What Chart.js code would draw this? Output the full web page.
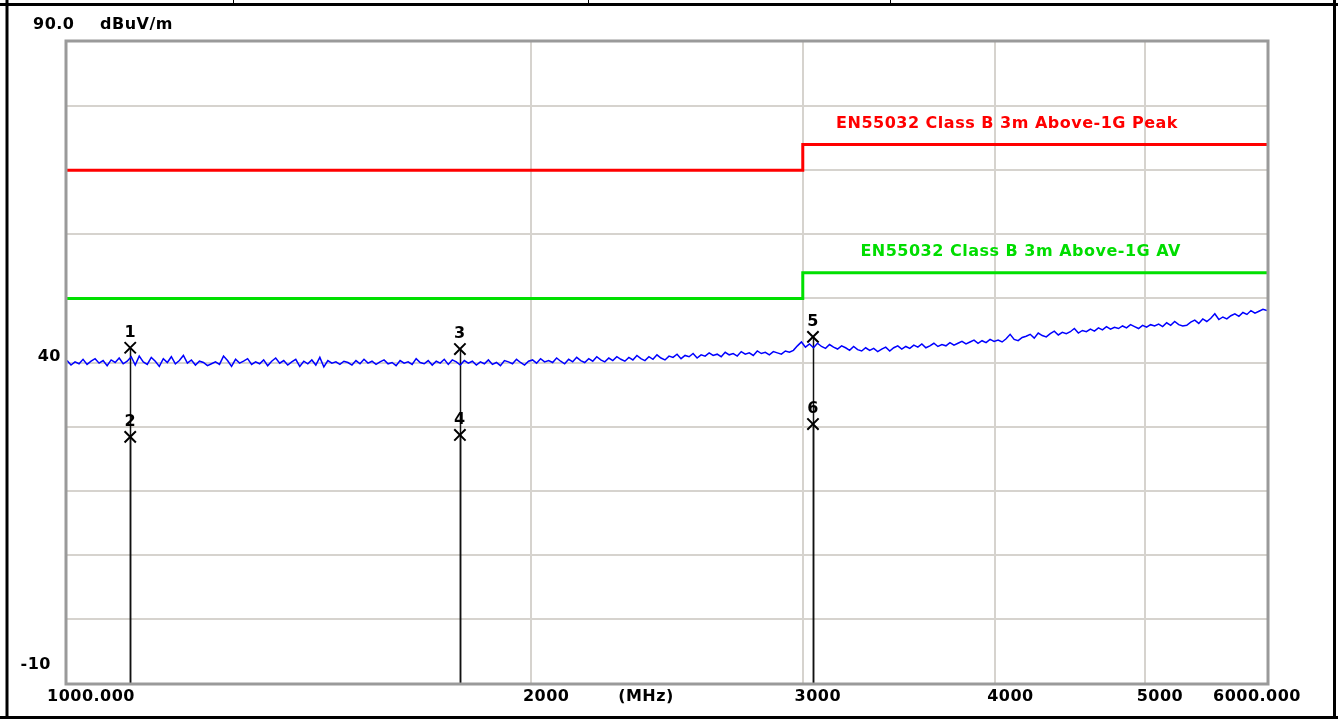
<!DOCTYPE html>
<html>
<head>
<meta charset="utf-8">
<title>Radiated emission 1-6 GHz</title>
<script src="https://cdn.jsdelivr.net/npm/chart.js@4.4.1/dist/chart.umd.min.js"></script>
<style>
    html, body { margin: 0; padding: 0; background: #fff; }
    #wrap { position: relative; width: 1338px; height: 719px; }
</style>
</head>
<body>
<div id="wrap"><canvas id="emiChart"></canvas></div>
<script>
// Sweep range (MHz)
const sweepStart = 1000;
const sweepStop = 6000;

const traceLevels = [
    40.3, 39.6, 40.1, 39.8, 40.5, 39.7, 40.2, 40.6, 39.9, 40.3, 39.5, 40.4, 40.0, 40.7, 39.8, 40.2, 40.9, 39.6, 41.0, 40.1,
    39.7, 40.8, 40.2, 39.4, 40.6, 40.0, 40.9, 39.8, 40.3, 41.1, 39.9, 40.4, 39.6, 40.2, 40.0, 39.5, 39.8, 40.1, 39.7, 41.0,
    40.3, 39.4, 40.5, 39.9, 40.2, 40.6, 39.7, 40.1, 39.8, 40.4, 39.5, 40.2, 40.7, 39.9, 40.3, 39.6, 40.1, 40.5, 39.4, 40.2,
    39.8, 40.4, 39.6, 40.8, 39.3, 40.3, 39.9, 40.1, 39.7, 40.2, 40.0, 39.6, 40.3, 39.8, 40.5, 39.9, 40.2, 39.7, 40.1, 40.4,
    39.8, 40.0, 39.5, 40.3, 39.9, 40.1, 39.7, 40.6, 40.0, 39.8, 40.3, 39.6, 40.2, 39.9, 40.5, 39.7, 40.4, 40.1, 39.6, 40.3,
    39.9, 40.2, 39.6, 40.1, 39.8, 40.4, 39.7, 40.0, 39.5, 40.3, 40.1, 39.8, 40.5, 40.0, 39.6, 40.2, 40.4, 39.9, 40.6, 40.1,
    40.3, 40.0, 40.7, 40.2, 39.8, 40.5, 40.1, 40.8, 40.3, 40.0, 40.6, 40.2, 40.9, 40.4, 40.1, 40.7, 40.3, 40.9, 40.5, 40.2,
    40.8, 40.4, 41.1, 40.6, 40.3, 40.9, 40.5, 41.2, 40.7, 40.4, 41.0, 40.8, 41.3, 40.6, 41.1, 40.9, 41.4, 40.7, 41.2, 41.0,
    41.5, 41.1, 41.3, 40.9, 41.6, 41.2, 41.4, 41.0, 41.7, 41.3, 41.5, 41.1, 41.8, 41.4, 41.6, 41.2, 41.7, 41.5, 41.3, 41.8,
    41.6, 41.9, 42.6, 43.2, 42.4, 42.9, 42.3, 43.0, 42.5, 42.2, 42.8, 42.4, 42.1, 42.6, 42.3, 41.9, 42.5, 42.0, 41.8, 42.3,
    41.9, 42.2, 41.7, 42.1, 42.4, 41.8, 42.3, 42.6, 42.1, 42.5, 42.2, 42.7, 42.4, 42.9, 42.3, 42.6, 43.0, 42.5, 42.8, 42.6,
    43.1, 42.7, 43.0, 43.3, 42.9, 43.2, 43.5, 43.0, 43.4, 43.1, 43.6, 43.3, 43.5, 43.2, 43.7, 44.4, 43.6, 43.4, 43.9, 44.1,
    44.4, 43.8, 44.6, 44.2, 44.0, 44.5, 44.9, 44.3, 44.7, 44.5, 44.8, 45.3, 44.6, 45.0, 44.8, 45.2, 44.9, 45.4, 45.1, 45.6,
    45.2, 45.5, 45.3, 45.7, 45.4, 45.9, 45.6, 45.3, 45.8, 45.5, 45.9, 45.7, 46.0, 45.6, 46.2, 45.8, 46.4, 45.9, 45.7, 45.8,
    46.3, 46.6, 46.1, 46.8, 46.4, 46.9, 47.6, 46.7, 47.1, 46.8, 47.3, 47.6, 47.2, 47.8, 47.5, 48.1, 47.7, 48.0, 48.3, 48.1
];

// Limit lines (EN55032 Class B, 3 m, above 1 GHz)
const peakLimitFreq = [1000, 3000, 3000, 6000];
const peakLimitLevel = [70, 70, 74, 74];
const avLimitFreq = [1000, 3000, 3000, 6000];
const avLimitLevel = [50, 50, 54, 54];
const peakLimitName = 'EN55032 Class B 3m Above-1G Peak';
const avLimitName = 'EN55032 Class B 3m Above-1G AV';

// Markers
const markerNo = ['1', '2', '3', '4', '5', '6'];
const markerFreq = [1099, 1099, 1798, 1798, 3046, 3046];
const markerLevel = [42.3, 28.4, 42.1, 28.7, 44.0, 30.4];

// Axes
const xTicks = [1000, 2000, 3000, 4000, 5000, 6000];
const xTickLabels = ['1000.000', '2000', '3000', '4000', '5000', '6000.000'];
const yMin = -10;
const yMax = 90;
const yUnit = 'dBuV/m';
const xUnit = '(MHz)';

const FONT = 'bold 16px "DejaVu Sans", Verdana, sans-serif';

function toPoints(xs, ys) {
    return xs.map((x, i) => ({ x: x, y: ys[i] }));
}

function tracePoints() {
    const n = traceLevels.length;
    const ratio = sweepStop / sweepStart;
    return traceLevels.map((level, i) => ({ x: sweepStart * Math.pow(ratio, i / (n - 1)), y: level }));
}

// Page frame, plot border, texts, marker drop lines
const decorPlugin = {
    id: 'decor',
    beforeDatasetsDraw(chart) {
        const ctx = chart.ctx;
        const xs = chart.scales.x;
        const ys = chart.scales.y;
        ctx.save();
        ctx.strokeStyle = '#111';
        ctx.lineWidth = 1.5;
        markerFreq.forEach((f, i) => {
            const px = Math.round(xs.getPixelForValue(f)) + 0.5;
            ctx.beginPath();
            ctx.moveTo(px, ys.getPixelForValue(markerLevel[i]));
            ctx.lineTo(px, chart.chartArea.bottom);
            ctx.stroke();
        });
        ctx.restore();
    },
    afterDraw(chart) {
        const ctx = chart.ctx;
        const area = chart.chartArea;
        const xs = chart.scales.x;
        const ys = chart.scales.y;
        ctx.save();

        // plot border
        ctx.strokeStyle = '#9a9a9a';
        ctx.lineWidth = 3;
        ctx.strokeRect(area.left - 1, area.top - 1, area.right - area.left + 2, area.bottom - area.top + 2);

        // page frame
        ctx.strokeStyle = '#000';
        ctx.lineWidth = 3;
        ctx.beginPath();
        ctx.moveTo(0, 4.5); ctx.lineTo(1338, 4.5);
        ctx.moveTo(7, 0); ctx.lineTo(7, 719);
        ctx.moveTo(1334.5, 0); ctx.lineTo(1334.5, 719);
        ctx.moveTo(0, 717.5); ctx.lineTo(1338, 717.5);
        ctx.stroke();
        ctx.lineWidth = 1;
        [233, 588, 890].forEach(x => {
            ctx.beginPath();
            ctx.moveTo(x + 0.5, 0); ctx.lineTo(x + 0.5, 4);
            ctx.stroke();
        });

        ctx.font = FONT;
        ctx.letterSpacing = '0.5px';
        ctx.fillStyle = '#000';
        ctx.textBaseline = 'middle';

        // y axis texts
        ctx.textAlign = 'left';
        ctx.fillText(yMax.toFixed(1), 33, 25);
        ctx.fillText(yUnit, 100, 25);
        ctx.textAlign = 'right';
        ctx.fillText('40', 61, ys.getPixelForValue(40) - 6);
        ctx.fillText(String(yMin), 51, ys.getPixelForValue(yMin) - 18);

        // x axis texts
        const ly = area.bottom + 14;
        ctx.textAlign = 'center';
        xTicks.forEach((t, i) => {
            let px = xs.getPixelForValue(t) + 15;
            if (i === 0) px = xs.getPixelForValue(t) + 24;
            if (i === xTicks.length - 1) px = xs.getPixelForValue(t) - 10;
            ctx.fillText(xTickLabels[i], px, ly);
        });
        ctx.fillText(xUnit, 646, ly);

        // marker numbers
        markerNo.forEach((label, i) => {
            ctx.fillText(label, xs.getPixelForValue(markerFreq[i]), ys.getPixelForValue(markerLevel[i]) - 15);
        });

        // limit names
        ctx.textAlign = 'right';
        ctx.fillStyle = '#ff0000';
        ctx.fillText(peakLimitName, 1178, ys.getPixelForValue(peakLimitLevel[3]) - 21);
        ctx.fillStyle = '#00dd00';
        ctx.fillText(avLimitName, 1181, ys.getPixelForValue(avLimitLevel[3]) - 21);

        ctx.restore();
    }
};

const chart = new Chart(document.getElementById('emiChart'), {
    type: 'line',
    data: {
        datasets: [
            {
                label: 'Trace',
                data: tracePoints(),
                borderColor: '#0000ff',
                borderWidth: 1.5,
                pointRadius: 0,
                tension: 0,
            },
            {
                label: peakLimitName,
                data: toPoints(peakLimitFreq, peakLimitLevel),
                borderColor: '#ff0000',
                borderWidth: 3,
                pointRadius: 0,
                tension: 0,
            },
            {
                label: avLimitName,
                data: toPoints(avLimitFreq, avLimitLevel),
                borderColor: '#00e000',
                borderWidth: 3,
                pointRadius: 0,
                tension: 0,
            },
            {
                label: 'Markers',
                data: toPoints(markerFreq, markerLevel),
                showLine: false,
                pointStyle: 'crossRot',
                pointRadius: 8,
                pointBorderWidth: 2,
                borderColor: '#000',
                backgroundColor: '#000',
            },
        ],
    },
    options: {
        responsive: true,
        maintainAspectRatio: false,
        animation: false,
        layout: {
            padding: { left: 67, top: 42, right: 71, bottom: 36 },
        },
        plugins: {
            legend: { display: false },
            tooltip: { enabled: false },
        },
        scales: {
            x: {
                type: 'logarithmic',
                min: sweepStart,
                max: sweepStop,
                afterBuildTicks: axis => {
                    axis.ticks = xTicks.map(v => ({ value: v }));
                },
                ticks: { display: false },
                border: { display: false },
                grid: {
                    drawTicks: false,
                    color: ctx => (ctx.tick && (ctx.tick.value === sweepStart || ctx.tick.value === sweepStop)) ? 'rgba(0,0,0,0)' : '#d6d3ce',
                    lineWidth: 2,
                },
            },
            y: {
                type: 'linear',
                min: yMin,
                max: yMax,
                ticks: { display: false, stepSize: 10 },
                border: { display: false },
                grid: {
                    drawTicks: false,
                    color: ctx => (ctx.tick && (ctx.tick.value === yMin || ctx.tick.value === yMax)) ? 'rgba(0,0,0,0)' : '#d6d3ce',
                    lineWidth: 2,
                },
            },
        },
    },
    plugins: [decorPlugin],
});
</script>
</body>
</html>
